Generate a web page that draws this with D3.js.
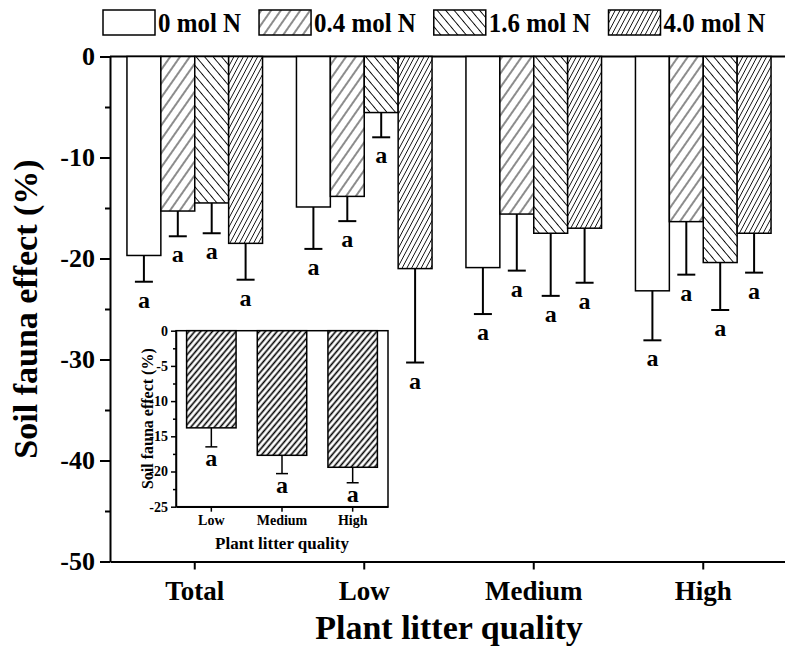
<!DOCTYPE html>
<html>
<head>
<meta charset="utf-8">
<script src="https://cdn.jsdelivr.net/npm/d3@7"></script>
<style>
  html, body { margin: 0; padding: 0; background: #fff; }
  svg { display: block; font-family: "Liberation Serif", "Times New Roman", serif; font-weight: bold; }
</style>
</head>
<body>
<svg id="chart" width="785" height="651"></svg>
<script>
// main chart data
const categories = ['Total', 'Low', 'Medium', 'High']
const series = ['0 mol N', '0.4 mol N', '1.6 mol N', '4.0 mol N']
const means = [
	[-19.7, -14.9, -20.9, -23.2],   // 0 mol N
	[-15.3, -13.85, -15.6, -16.35], // 0.4 mol N
	[-14.5, -5.55, -17.5, -20.4],   // 1.6 mol N
	[-18.5, -21.0, -17.0, -17.5],   // 4.0 mol N
]
const errors = [
	[2.6, 4.15, 4.6, 4.9],
	[2.5, 2.45, 5.6, 5.25],
	[3.0, 2.45, 6.2, 4.7],
	[3.6, 9.3, 5.4, 3.9],
]
const letters = [
	['a', 'a', 'a', 'a'],
	['a', 'a', 'a', 'a'],
	['a', 'a', 'a', 'a'],
	['a', 'a', 'a', 'a'],
]
const yTicks = [0, -10, -20, -30, -40, -50]
const yMinorTicks = [-5, -15, -25, -35, -45]

// inset data
const insetCategories = ['Low', 'Medium', 'High']
const insetMeans = [-13.8, -17.7, -19.4]
const insetErrors = [2.7, 2.6, 2.2]
const insetLetters = ['a', 'a', 'a']
const insetTicks = [0, -5, -10, -15, -20, -25]
const insetMinorTicks = [-2.5, -7.5, -12.5, -17.5, -22.5]

const svg = d3.select('#chart')

// hatch patterns
const defs = svg.append('defs')
function hatch(id, spacing, angle, width) {
	const p = defs.append('pattern')
		.attr('id', id)
		.attr('patternUnits', 'userSpaceOnUse')
		.attr('width', spacing)
		.attr('height', spacing)
		.attr('patternTransform', `rotate(${angle})`)
	p.append('rect').attr('width', spacing).attr('height', spacing).attr('fill', '#fff')
	p.append('line')
		.attr('x1', spacing / 2).attr('y1', 0)
		.attr('x2', spacing / 2).attr('y2', spacing)
		.attr('stroke', '#000').attr('stroke-width', width)
}
hatch('h04', 8, 35, 0.9)
hatch('h16', 6.5, -40, 0.9)
hatch('h40', 4.2, 28, 0.8)
hatch('hin', 4.5, 40, 1.6)
const fills = ['#fff', 'url(#h04)', 'url(#h16)', 'url(#h40)']

// scales
const mLeft = 110, mRight = 788, mTop = 56.5, mBottom = 561.5
const y = d3.scaleLinear().domain([-50, 0]).range([mBottom, mTop])
const x0 = d3.scaleBand().domain(categories).range([mLeft, mRight]).paddingInner(0.2).paddingOuter(0.1)
const x1 = d3.scaleBand().domain(series).range([0, x0.bandwidth()])

// d3 axes put a sans-serif font on their group, drop it so the serif applies
function serifAxis(g, size) {
	g.attr('font-family', null).attr('font-size', size)
	g.selectAll('text').attr('fill', '#000')
}

// axes
svg.append('g')
	.attr('transform', `translate(${mLeft},0)`)
	.call(d3.axisLeft(y).tickValues(yTicks).tickSize(10).tickSizeOuter(0).tickPadding(5).tickFormat(d => String(d)))
	.call(serifAxis, 26)
svg.append('g')
	.attr('transform', `translate(${mLeft},0)`)
	.call(d3.axisLeft(y).tickValues(yMinorTicks).tickSize(5).tickSizeOuter(0).tickFormat(''))
	.select('.domain').remove()

svg.append('g')
	.attr('transform', `translate(0,${mBottom})`)
	.call(d3.axisBottom(x0).tickSize(8).tickSizeOuter(0).tickPadding(11))
	.call(serifAxis, 27)

// zero line along top
svg.append('line')
	.attr('x1', mLeft).attr('x2', mRight)
	.attr('y1', y(0)).attr('y2', y(0))
	.attr('stroke', '#000').attr('stroke-width', 2)

svg.selectAll('.domain, .tick line').attr('stroke-width', 2)

// bars
const rows = []
series.forEach((s, i) => categories.forEach((c, j) => {
	rows.push({s, i, c, v: means[i][j], e: errors[i][j], l: letters[i][j]})
}))

svg.append('g')
	.selectAll('rect')
	.data(rows)
	.join('rect')
	.attr('x', d => x0(d.c) + x1(d.s))
	.attr('y', y(0))
	.attr('width', x1.bandwidth())
	.attr('height', d => y(d.v) - y(0))
	.attr('fill', d => fills[d.i])
	.attr('stroke', '#000')
	.attr('stroke-width', 1.5)

const errG = svg.append('g').attr('stroke', '#000').attr('stroke-width', 2)
rows.forEach(d => {
	const cx = x0(d.c) + x1(d.s) + x1.bandwidth() / 2
	errG.append('line').attr('x1', cx).attr('x2', cx).attr('y1', y(d.v)).attr('y2', y(d.v - d.e))
	errG.append('line').attr('x1', cx - 9).attr('x2', cx + 9).attr('y1', y(d.v - d.e)).attr('y2', y(d.v - d.e))
})

svg.append('g')
	.selectAll('text')
	.data(rows)
	.join('text')
	.attr('x', d => x0(d.c) + x1(d.s) + x1.bandwidth() / 2)
	.attr('y', d => y(d.v - d.e) + 26)
	.attr('text-anchor', 'middle')
	.attr('font-size', 24)
	.text(d => d.l)

// axis titles
svg.append('text')
	.attr('transform', `translate(37,${(mTop + mBottom) / 2}) rotate(-90)`)
	.attr('text-anchor', 'middle')
	.attr('font-size', 34)
	.text('Soil fauna effect (%)')
svg.append('text')
	.attr('x', (mLeft + mRight) / 2)
	.attr('y', 639)
	.attr('text-anchor', 'middle')
	.attr('font-size', 34)
	.text('Plant litter quality')

// legend (text is a bit condensed in the original)
const legend = svg.append('g')
const squeeze = 0.89
let lx = 103
series.forEach((s, i) => {
	legend.append('rect')
		.attr('x', lx).attr('y', 10)
		.attr('width', 52).attr('height', 25)
		.attr('fill', fills[i]).attr('stroke', '#000').attr('stroke-width', 1.5)
	const t = legend.append('text')
		.attr('transform', `translate(${lx + 55},32) scale(${squeeze},1)`)
		.attr('font-size', 28)
		.text(s)
	lx += 55 + t.node().getComputedTextLength() * squeeze + 18
})

// inset
const iL = 176, iR = 388, iT = 330.7, iB = 506.7
const iy = d3.scaleLinear().domain([-25, 0]).range([iB, iT])
const ix = d3.scaleBand().domain(insetCategories).range([iL, iR]).paddingInner(0.3).paddingOuter(0.15)
const inset = svg.append('g')
inset.append('rect')
	.attr('x', iL).attr('y', iT).attr('width', iR - iL).attr('height', iB - iT)
	.attr('fill', '#fff').attr('stroke', '#000').attr('stroke-width', 1.5)

inset.append('g')
	.attr('transform', `translate(${iL},0)`)
	.call(d3.axisLeft(iy).tickValues(insetTicks).tickSize(5).tickSizeOuter(0).tickPadding(3).tickFormat(d => String(d)))
	.call(serifAxis, 14)
inset.append('g')
	.attr('transform', `translate(${iL},0)`)
	.call(d3.axisLeft(iy).tickValues(insetMinorTicks).tickSize(3).tickSizeOuter(0).tickFormat(''))
	.select('.domain').remove()
inset.append('g')
	.attr('transform', `translate(0,${iB})`)
	.call(d3.axisBottom(ix).tickSize(5).tickSizeOuter(0).tickPadding(3))
	.call(serifAxis, 14)
inset.selectAll('.domain, .tick line').attr('stroke-width', 1.5)

const iRows = insetCategories.map((c, j) => ({c, v: insetMeans[j], e: insetErrors[j], l: insetLetters[j]}))
inset.append('g')
	.selectAll('rect')
	.data(iRows)
	.join('rect')
	.attr('x', d => ix(d.c))
	.attr('y', iy(0))
	.attr('width', ix.bandwidth())
	.attr('height', d => iy(d.v) - iy(0))
	.attr('fill', 'url(#hin)')
	.attr('stroke', '#000')
	.attr('stroke-width', 1.5)
const iErr = inset.append('g').attr('stroke', '#000').attr('stroke-width', 1.5)
iRows.forEach(d => {
	const cx = ix(d.c) + ix.bandwidth() / 2
	iErr.append('line').attr('x1', cx).attr('x2', cx).attr('y1', iy(d.v)).attr('y2', iy(d.v - d.e))
	iErr.append('line').attr('x1', cx - 6).attr('x2', cx + 6).attr('y1', iy(d.v - d.e)).attr('y2', iy(d.v - d.e))
})
inset.append('g')
	.selectAll('text')
	.data(iRows)
	.join('text')
	.attr('x', d => ix(d.c) + ix.bandwidth() / 2)
	.attr('y', d => iy(d.v - d.e) + 19)
	.attr('text-anchor', 'middle')
	.attr('font-size', 24)
	.text(d => d.l)
inset.append('text')
	.attr('transform', `translate(153,${(iT + iB) / 2}) rotate(-90)`)
	.attr('text-anchor', 'middle')
	.attr('font-size', 16)
	.text('Soil fauna effect (%)')
inset.append('text')
	.attr('x', (iL + iR) / 2)
	.attr('y', 549)
	.attr('text-anchor', 'middle')
	.attr('font-size', 17)
	.text('Plant litter quality')
</script>
</body>
</html>
